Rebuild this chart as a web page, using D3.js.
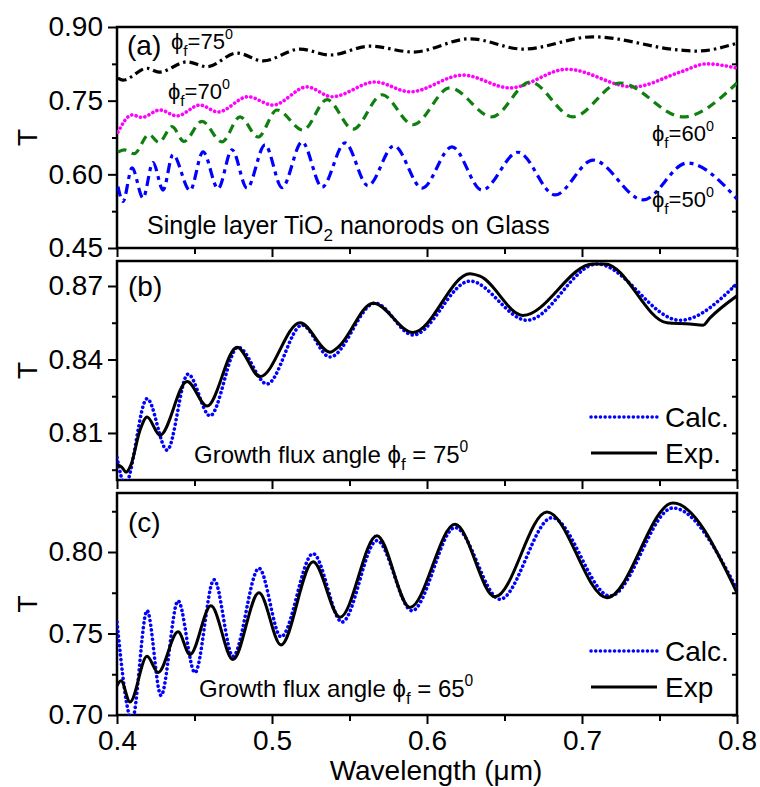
<!DOCTYPE html>
<html>
<head>
<meta charset="utf-8">
<script src="https://cdn.jsdelivr.net/npm/d3@7"></script>
<style>
    body { margin: 0; background: #fff; }
    svg { font-family: Arial, "Liberation Sans", sans-serif; }
    .tick text { font-size: 28px; fill: #000; }
    .tick line { stroke: #000; stroke-width: 2; }
</style>
</head>
<body>
<svg id="chart" width="760" height="787"></svg>
<script>
// x axis ticks (shared)
const xMajor = [0.4, 0.5, 0.6, 0.7, 0.8];
const xMinor = [0.45, 0.55, 0.65, 0.75];

// panel (a): calculated spectra for four flux angles
const wlA75 = [0.4006, 0.4039, 0.4194, 0.4271, 0.4452, 0.4581, 0.4774, 0.4942, 0.5181, 0.5374, 0.5632, 0.5910, 0.6277, 0.6619, 0.7071, 0.7632, 0.7742, 0.8000];
const tA75 = [0.796, 0.792, 0.816, 0.808, 0.829, 0.819, 0.847, 0.831, 0.855, 0.843, 0.861, 0.849, 0.876, 0.855, 0.880, 0.853, 0.851, 0.867];

const wlA70 = [0.4006, 0.4097, 0.4161, 0.4277, 0.4387, 0.4535, 0.4652, 0.4845, 0.5006, 0.5226, 0.5387, 0.5665, 0.5890, 0.6232, 0.6535, 0.6903, 0.7329, 0.7632, 0.7806, 0.8000];
const tA70 = [0.686, 0.721, 0.716, 0.731, 0.719, 0.741, 0.727, 0.758, 0.741, 0.778, 0.758, 0.788, 0.768, 0.802, 0.776, 0.814, 0.778, 0.808, 0.825, 0.816];

const wlA60 = [0.4006, 0.4045, 0.4110, 0.4206, 0.4271, 0.4355, 0.4432, 0.4548, 0.4677, 0.4794, 0.4910, 0.5032, 0.5200, 0.5355, 0.5523, 0.5710, 0.5910, 0.6148, 0.6419, 0.6665, 0.6942, 0.7245, 0.7652, 0.8000];
const tA60 = [0.645, 0.650, 0.642, 0.681, 0.665, 0.697, 0.667, 0.708, 0.666, 0.717, 0.676, 0.731, 0.690, 0.752, 0.692, 0.762, 0.701, 0.776, 0.717, 0.788, 0.717, 0.786, 0.717, 0.786];

const wlA50 = [0.4006, 0.4039, 0.4097, 0.4168, 0.4232, 0.4297, 0.4361, 0.4471, 0.4555, 0.4652, 0.4742, 0.4839, 0.4955, 0.5065, 0.5194, 0.5323, 0.5471, 0.5619, 0.5787, 0.5968, 0.6161, 0.6355, 0.6587, 0.6826, 0.7071, 0.7394, 0.7677, 0.8000];
const tA50 = [0.575, 0.545, 0.613, 0.552, 0.624, 0.568, 0.640, 0.567, 0.646, 0.571, 0.650, 0.572, 0.660, 0.573, 0.666, 0.574, 0.664, 0.577, 0.658, 0.572, 0.656, 0.568, 0.645, 0.558, 0.629, 0.548, 0.623, 0.550];

// panel (b): flux angle 75
const wlBExp = [0.4000, 0.4032, 0.4058, 0.4090, 0.4148, 0.4194, 0.4277, 0.4452, 0.4581, 0.4774, 0.4923, 0.5181, 0.5374, 0.5426, 0.5652, 0.5910, 0.6277, 0.6342, 0.6619, 0.7071, 0.7148, 0.7548, 0.7697, 0.7781, 0.7826, 0.8000];
const tBExp = [0.797, 0.796, 0.794, 0.797, 0.811, 0.8165, 0.809, 0.831, 0.821, 0.845, 0.833, 0.855, 0.843, 0.845, 0.863, 0.851, 0.875, 0.874, 0.858, 0.879, 0.879, 0.855, 0.8545, 0.854, 0.857, 0.866];
const wlBCalc = [0.4000, 0.4052, 0.4194, 0.4323, 0.4458, 0.4600, 0.4781, 0.4968, 0.5194, 0.5374, 0.5665, 0.5910, 0.6277, 0.6645, 0.7097, 0.7632, 0.8000];
const tBCalc = [0.800, 0.789, 0.824, 0.803, 0.834, 0.817, 0.845, 0.830, 0.854, 0.841, 0.863, 0.850, 0.872, 0.856, 0.879, 0.856, 0.871];

// panel (c): flux angle 65
const wlCExp = [0.4000, 0.4026, 0.4084, 0.4194, 0.4265, 0.4394, 0.4471, 0.4606, 0.4748, 0.4916, 0.5058, 0.5265, 0.5439, 0.5677, 0.5890, 0.6181, 0.6439, 0.6774, 0.7161, 0.7587, 0.8000];
const tCExp = [0.718, 0.721, 0.708, 0.736, 0.726, 0.751, 0.737, 0.767, 0.734, 0.775, 0.743, 0.794, 0.760, 0.810, 0.766, 0.817, 0.7725, 0.8245, 0.772, 0.830, 0.775];
const wlCCalc = [0.4000, 0.4097, 0.4194, 0.4284, 0.4394, 0.4503, 0.4626, 0.4748, 0.4916, 0.5058, 0.5265, 0.5452, 0.5677, 0.5903, 0.6181, 0.6471, 0.6806, 0.7181, 0.7587, 0.8000];
const tCCalc = [0.757, 0.697, 0.764, 0.712, 0.770, 0.726, 0.783, 0.736, 0.790, 0.748, 0.799, 0.757, 0.807, 0.764, 0.815, 0.771, 0.821, 0.773, 0.827, 0.777];

// y ticks per panel
const yMajorA = [0.45, 0.60, 0.75, 0.90], yMinorA = [0.525, 0.675, 0.825];
const yMajorB = [0.81, 0.84, 0.87], yMinorB = [0.795, 0.825, 0.855];
const yMajorC = [0.70, 0.75, 0.80], yMinorC = [0.725, 0.775, 0.825];

const svg = d3.select("#chart");
const x = d3.scaleLinear().domain([0.4, 0.8]).range([117, 737]);
const PHI = "\u03D5";

function zip(wl, t) {
    return wl.map(function(d, i) { return {wl: d, t: t[i]}; });
}

function drawPanel(id, top, bottom, domain, major, minor, showX) {
    let y = d3.scaleLinear().domain(domain).range([bottom, top]);
    let g = svg.append("g").attr("class", "panel-" + id);

    g.append("clipPath").attr("id", "clip-" + id)
        .append("rect")
        .attr("x", 117).attr("y", top)
        .attr("width", 620).attr("height", bottom - top);

    // left axis
    g.append("g").attr("transform", "translate(117,0)")
        .call(d3.axisLeft(y).tickValues(major).tickSize(9).tickPadding(5).tickFormat(d3.format(".2f")))
        .call(function(a) { a.select(".domain").remove(); });
    g.append("g").attr("transform", "translate(117,0)")
        .call(d3.axisLeft(y).tickValues(minor).tickSize(5).tickFormat(""))
        .call(function(a) { a.select(".domain").remove(); });
    // right axis, ticks inward
    g.append("g").attr("transform", "translate(737,0)")
        .call(d3.axisLeft(y).tickValues(major.concat(minor)).tickSize(5).tickFormat(""))
        .call(function(a) { a.select(".domain").remove(); });

    // bottom axis
    g.append("g").attr("transform", "translate(0," + bottom + ")")
        .call(d3.axisBottom(x).tickValues(xMajor).tickSize(9).tickPadding(6)
            .tickFormat(showX ? d3.format(".1f") : ""))
        .call(function(a) { a.select(".domain").remove(); });
    g.append("g").attr("transform", "translate(0," + bottom + ")")
        .call(d3.axisBottom(x).tickValues(xMinor).tickSize(6).tickFormat(""))
        .call(function(a) { a.select(".domain").remove(); });

    g.append("rect")
        .attr("x", 117).attr("y", top)
        .attr("width", 620).attr("height", bottom - top)
        .attr("fill", "none").attr("stroke", "#000").attr("stroke-width", 2.5);

    svg.append("text")
        .attr("transform", "translate(27," + ((top + bottom) / 2) + ") rotate(-90)")
        .attr("text-anchor", "middle")
        .attr("dy", "0.35em")
        .style("font-size", "28px")
        .text("T");

    return {g: g, y: y, clip: "url(#clip-" + id + ")"};
}

function addLine(p, data, color, dash, width, cap) {
    let line = d3.line()
        .x(function(d) { return x(d.wl); })
        .y(function(d) { return p.y(d.t); })
        .curve(d3.curveMonotoneX);
    p.g.append("path")
        .datum(data)
        .attr("clip-path", p.clip)
        .attr("d", line)
        .attr("fill", "none")
        .attr("stroke", color)
        .attr("stroke-width", width)
        .attr("stroke-dasharray", dash)
        .attr("stroke-linecap", cap || "butt");
}

// phi_f = NN^0 style label
function phiLabel(g, px, py, pre, value, size) {
    let t = g.append("text").attr("x", px).attr("y", py).style("font-size", size + "px");
    t.append("tspan").text(pre + PHI);
    t.append("tspan").attr("dy", size * 0.3).style("font-size", (size * 0.7) + "px").text("f");
    t.append("tspan").attr("dy", -size * 0.3).text(value);
    t.append("tspan").attr("dy", -size * 0.45).style("font-size", (size * 0.65) + "px").text("0");
}

function legend(g, top) {
    g.append("line").attr("x1", 591).attr("x2", 657).attr("y1", top).attr("y2", top)
        .attr("stroke", "#0000ff").attr("stroke-width", 3.5)
        .attr("stroke-dasharray", "0.1,4.6").attr("stroke-linecap", "round");
    g.append("line").attr("x1", 591).attr("x2", 657).attr("y1", top + 36).attr("y2", top + 36)
        .attr("stroke", "#000").attr("stroke-width", 3);
}

// panel (a)
let pa = drawPanel("a", 27, 248, [0.45, 0.90], yMajorA, yMinorA, false);
addLine(pa, zip(wlA75, tA75), "#000", "9,4,2.5,4", 3.2);
addLine(pa, zip(wlA70, tA70), "#ff00ff", "0.1,4.4", 3.6, "round");
addLine(pa, zip(wlA60, tA60), "#0f7f0f", "9,6", 3.2);
addLine(pa, zip(wlA50, tA50), "#0000ff", "10,5,4,5", 3.2);

pa.g.append("text").attr("x", 127).attr("y", 55).style("font-size", "28px").text("(a)");
phiLabel(pa.g, 171, 49, "", "=75", 22);
phiLabel(pa.g, 168, 99, "", "=70", 22);
phiLabel(pa.g, 652, 141, "", "=60", 22);
phiLabel(pa.g, 652, 207, "", "=50", 22);

let ta = pa.g.append("text").attr("x", 147).attr("y", 234).style("font-size", "25px");
ta.append("tspan").text("Single layer TiO");
ta.append("tspan").attr("dy", 7).style("font-size", "17px").text("2");
ta.append("tspan").attr("dy", -7).text(" nanorods on Glass");

// panel (b)
let pb = drawPanel("b", 261, 480, [0.7908, 0.8802], yMajorB, yMinorB, false);
addLine(pb, zip(wlBCalc, tBCalc), "#0000ff", "0.1,4.6", 3.6, "round");
addLine(pb, zip(wlBExp, tBExp), "#000", null, 3);
pb.g.append("text").attr("x", 128).attr("y", 296).style("font-size", "28px").text("(b)");
phiLabel(pb.g, 194, 463, "Growth flux angle ", " = 75", 24);
legend(pb.g, 417);
pb.g.append("text").attr("x", 665).attr("y", 427).style("font-size", "28px").text("Calc.");
pb.g.append("text").attr("x", 665).attr("y", 463).style("font-size", "28px").text("Exp.");

// panel (c)
let pc = drawPanel("c", 493, 715, [0.70, 0.8362], yMajorC, yMinorC, true);
addLine(pc, zip(wlCCalc, tCCalc), "#0000ff", "0.1,4.6", 3.6, "round");
addLine(pc, zip(wlCExp, tCExp), "#000", null, 3);
pc.g.append("text").attr("x", 128).attr("y", 532).style("font-size", "28px").text("(c)");
phiLabel(pc.g, 199, 697, "Growth flux angle ", " = 65", 24);
legend(pc.g, 651);
pc.g.append("text").attr("x", 665).attr("y", 661).style("font-size", "28px").text("Calc.");
pc.g.append("text").attr("x", 665).attr("y", 697).style("font-size", "28px").text("Exp");

svg.append("text")
    .attr("x", 436).attr("y", 780)
    .attr("text-anchor", "middle")
    .style("font-size", "28px")
    .text("Wavelength (\u03BCm)");
</script>
</body>
</html>
